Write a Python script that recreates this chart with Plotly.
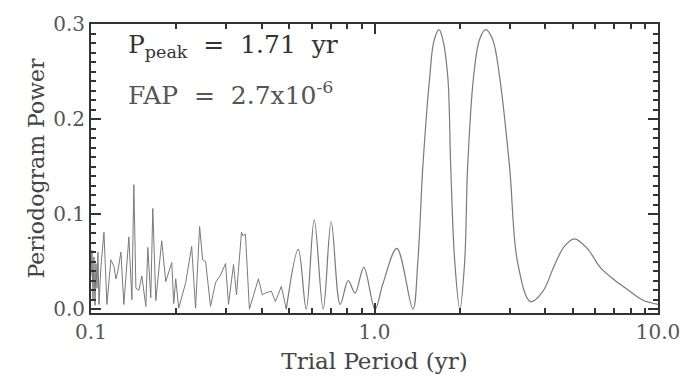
import plotly.graph_objects as go

# Short-period (noisy) part of the periodogram, drawn with straight segments
period_short = [0.1000, 0.1008, 0.1016, 0.1024, 0.1033, 0.1041, 0.1050, 0.1058, 0.1067,
                0.1084, 0.1111, 0.1138, 0.1175, 0.1205, 0.1224, 0.1244, 0.1275, 0.1306,
                0.1360, 0.1394, 0.1416, 0.1440, 0.1475, 0.1511, 0.1561, 0.1586, 0.1625,
                0.1652, 0.1693, 0.1776, 0.1835, 0.1927, 0.1958, 0.1990, 0.2039, 0.2158,
                0.2265, 0.2338, 0.2416, 0.2476, 0.2537, 0.2640, 0.2750, 0.2864, 0.2983,
                0.3055, 0.3182, 0.3260, 0.3395, 0.3440, 0.3506, 0.3620, 0.3896, 0.4020,
                0.4123, 0.4327, 0.4471, 0.4693, 0.4885]
power_short = [0.035, 0.062, 0.010, 0.055, 0.004, 0.048, 0.022, 0.060, 0.005,
               0.045, 0.081, 0.005, 0.052, 0.045, 0.032, 0.040, 0.060, 0.005,
               0.076, 0.010, 0.131, 0.022, 0.020, 0.035, 0.003, 0.065, 0.012,
               0.106, 0.009, 0.072, 0.029, 0.049, 0.006, 0.032, 0.001, 0.028,
               0.066, 0.001, 0.087, 0.052, 0.050, 0.003, 0.028, 0.036, 0.048,
               0.005, 0.047, 0.015, 0.081, 0.077, 0.079, 0.000, 0.032, 0.015,
               0.017, 0.019, 0.008, 0.024, 0.000]

# Long-period (smooth) part of the periodogram
period_long = [0.4885, 0.5384, 0.5743, 0.6129, 0.6592, 0.7034, 0.7569, 0.8076, 0.8540,
               0.9170, 1.0041, 1.0711, 1.1990, 1.3660, 1.4220, 1.4810, 1.5670, 1.6200,
               1.6900, 1.7400, 1.8130, 1.8570, 1.9190, 2.0000, 2.0800, 2.1310, 2.2370,
               2.3490, 2.4660, 2.6090, 2.7610, 2.9950, 3.1940, 3.5490, 3.9110, 4.3100,
               4.6730, 5.0670, 5.6280, 6.2530, 7.0030, 7.7800, 8.7860, 10.000]
power_long = [0.000, 0.063, 0.000, 0.094, 0.000, 0.092, 0.005, 0.030, 0.017,
              0.044, 0.000, 0.027, 0.064, 0.000, 0.050, 0.150, 0.245, 0.282,
              0.294, 0.284, 0.245, 0.150, 0.050, 0.000, 0.050, 0.150, 0.245,
              0.284, 0.294, 0.284, 0.245, 0.150, 0.050, 0.008, 0.018, 0.046,
              0.066, 0.074, 0.064, 0.044, 0.031, 0.021, 0.010, 0.005]

x_range_decades = [-1, 1]
y_range = [-0.004, 0.3]
x_tick_vals = [0.1, 1.0, 10.0]
x_tick_text = ["0.1", "1.0", "10.0"]
x_minor_vals = [0.2, 0.3, 0.4, 0.5, 0.6, 0.7, 0.8, 0.9, 2, 3, 4, 5, 6, 7, 8, 9]
y_tick_vals = [0.0, 0.1, 0.2, 0.3]
y_minor_vals = [round(i * 0.01, 2) for i in range(0, 31) if i % 10 != 0]

line_color = "#7a7a7a"
axis_color = "#333333"
font_family = "DejaVu Serif"

fig = go.Figure()
fig.add_trace(go.Scatter(x=period_short, y=power_short, mode="lines",
                         line=dict(color=line_color, width=1), showlegend=False,
                         xaxis="x2", yaxis="y2"))
fig.add_trace(go.Scatter(x=period_long, y=power_long, mode="lines",
                         line=dict(color=line_color, width=1.2, shape="spline", smoothing=1.0),
                         showlegend=False))

axis_common = dict(showline=True, linecolor=axis_color, linewidth=2, mirror="allticks",
                   ticks="inside", tickcolor=axis_color, showgrid=False, zeroline=False)

fig.update_layout(
    xaxis=dict(type="log", range=x_range_decades, tickmode="array", tickvals=x_tick_vals,
               ticktext=x_tick_text, ticklen=10, tickwidth=2,
               title=dict(text="Trial Period (yr)", font=dict(family=font_family, size=23, color="#444444"),
                          standoff=10),
               tickfont=dict(family=font_family, size=20, color="#555555"),
               **axis_common),
    yaxis=dict(range=y_range, tickmode="array", tickvals=y_tick_vals, tickformat=".1f",
               ticklen=10, tickwidth=2,
               title=dict(text="Periodogram Power", font=dict(family=font_family, size=22, color="#444444"),
                          standoff=2),
               tickfont=dict(family=font_family, size=20, color="#555555"),
               **axis_common),
    xaxis2=dict(type="log", range=x_range_decades, overlaying="x", anchor="y2", side="bottom",
                tickmode="array", tickvals=x_minor_vals, ticklen=5, tickwidth=1.5,
                showticklabels=False, **axis_common),
    yaxis2=dict(range=y_range, overlaying="y", anchor="x2", side="left",
                tickmode="array", tickvals=y_minor_vals, ticklen=5, tickwidth=1.5,
                showticklabels=False, **axis_common),
)

fig.add_annotation(xref="paper", yref="paper", x=0.061, y=0.925, xanchor="left", yanchor="middle",
                   text="P<sub>peak</sub>  =  1.71  yr", showarrow=False,
                   font=dict(family=font_family, size=25, color="#333333"))
fig.add_annotation(xref="paper", yref="paper", x=0.061, y=0.76, xanchor="left", yanchor="middle",
                   text="FAP  =  2.7x10<sup>-6</sup>", showarrow=False,
                   font=dict(family=font_family, size=25, color="#555555"))

fig.update_layout(width=692, height=382, margin=dict(l=91, r=31, t=14, b=66),
                  plot_bgcolor="white", paper_bgcolor="white", showlegend=False)

fig.write_html("out.html")
